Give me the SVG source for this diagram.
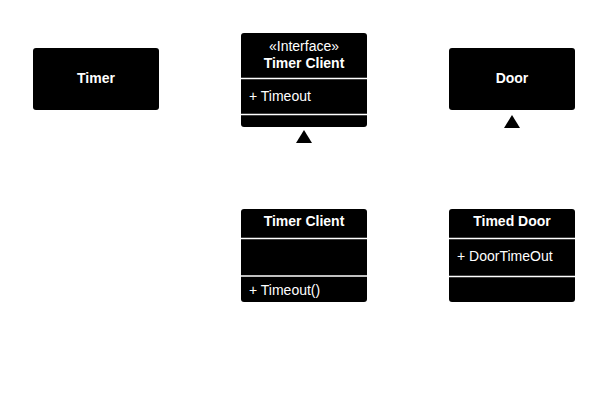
<svg xmlns="http://www.w3.org/2000/svg" width="608" height="400" viewBox="0 0 608 400">
<style>
.box{fill:#000;}
.sep{stroke:#fff;stroke-width:1.3;}
.t{font-family:"Liberation Sans",Arial,sans-serif;font-size:14px;fill:#fff;}
.b{font-weight:bold;text-anchor:middle;}
.c{text-anchor:middle;}
.head{fill:#000;}
</style>
<rect width="608" height="400" fill="#fff"/>
<g id="timer">
<rect class="box" x="33" y="48" width="126" height="62" rx="3"/>
<text class="t b" x="96" y="83">Timer</text>
</g>
<g id="timer-client-interface">
<rect class="box" x="241" y="33" width="126" height="94" rx="3"/>
<text class="t c" x="304" y="51">«Interface»</text>
<text class="t b" x="304" y="68">Timer Client</text>
<line class="sep" x1="241" y1="78.5" x2="367" y2="78.5"/>
<text class="t" x="249" y="101">+ Timeout</text>
<line class="sep" x1="241" y1="114.5" x2="367" y2="114.5"/>
</g>
<g id="door">
<rect class="box" x="449" y="48" width="126" height="62" rx="3"/>
<text class="t b" x="512" y="83">Door</text>
</g>
<g id="timer-client">
<rect class="box" x="241" y="209" width="126" height="93" rx="3"/>
<text class="t b" x="304" y="226">Timer Client</text>
<line class="sep" x1="241" y1="238.5" x2="367" y2="238.5"/>
<line class="sep" x1="241" y1="276" x2="367" y2="276"/>
<text class="t" x="249" y="295">+ Timeout()</text>
</g>
<g id="timed-door">
<rect class="box" x="449" y="209" width="126" height="93" rx="3"/>
<text class="t b" x="512" y="226">Timed Door</text>
<line class="sep" x1="449" y1="238.5" x2="575" y2="238.5"/>
<text class="t" x="457" y="261">+ DoorTimeOut</text>
<line class="sep" x1="449" y1="276.5" x2="575" y2="276.5"/>
</g>
<g id="connectors">
<polygon class="head" points="304,130 296,143 312,143"/>
<polygon class="head" points="512,115 504,128 520,128"/>
</g>
</svg>
